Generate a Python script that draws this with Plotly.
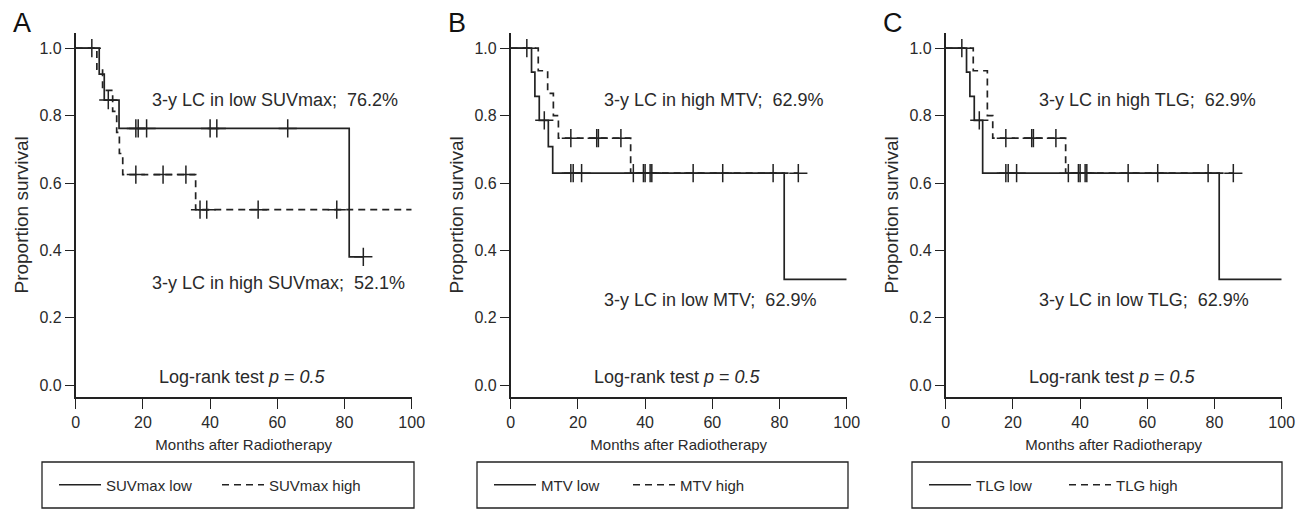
import plotly.graph_objects as go

W, H = 1306, 518
OFF = 8  # page body margin offset in the screenshot

# ---------------- data ----------------
months_ticks = [0, 20, 40, 60, 80, 100]
surv_ticks = [0.0, 0.2, 0.4, 0.6, 0.8, 1.0]
surv_tick_labels = ["0.0", "0.2", "0.4", "0.6", "0.8", "1.0"]

# Panel A: SUVmax
suv_low_event_t = [7.0, 8.5, 12.9, 81.4]
suv_low_surv = [0.923, 0.846, 0.762, 0.381]
suv_low_censor = [4.8, 9.7, 17.9, 18.6, 21.1, 40.0, 42.0, 63.1, 85.6]
suv_low_end = 85.6
suv_high_event_t = [6.3, 8.0, 11.0, 12.2, 13.0, 14.0, 35.7]
suv_high_surv = [0.9375, 0.875, 0.8125, 0.75, 0.6875, 0.625, 0.521]
suv_high_censor = [17.9, 26.0, 32.8, 37.0, 39.0, 54.3, 77.7]
suv_high_end = 100.0

# Panel B: MTV
mtv_low_event_t = [6.2, 7.2, 8.5, 11.2, 12.5, 81.4]
mtv_low_surv = [0.929, 0.857, 0.786, 0.708, 0.629, 0.314]
mtv_low_censor = [4.8, 10.0, 17.9, 18.6, 21.1, 40.0, 42.0, 63.1, 78.1]
mtv_low_end = 100.0
mtv_high_event_t = [8.2, 11.0, 12.7, 14.2, 35.7]
mtv_high_surv = [0.933, 0.866, 0.800, 0.733, 0.629]
mtv_high_censor = [17.9, 25.6, 26.1, 32.8, 36.5, 39.5, 41.5, 54.3, 85.6]
mtv_high_end = 85.6

# Panel C: TLG
tlg_low_event_t = [6.2, 7.2, 8.5, 11.0, 81.4]
tlg_low_surv = [0.929, 0.857, 0.786, 0.629, 0.314]
tlg_low_censor = [4.8, 10.0, 17.9, 18.6, 21.1, 40.0, 42.0, 63.1, 78.1]
tlg_low_end = 100.0
tlg_high_event_t = [8.2, 12.4, 14.0, 35.7]
tlg_high_surv = [0.933, 0.800, 0.733, 0.629]
tlg_high_censor = [17.9, 25.6, 26.1, 32.8, 36.5, 39.5, 41.5, 54.3, 85.6]
tlg_high_end = 85.6

panel_letters = ["A", "B", "C"]
group_names = [("SUVmax low", "SUVmax high"), ("MTV low", "MTV high"), ("TLG low", "TLG high")]
upper_texts = ["3-y LC in low SUVmax;  76.2%", "3-y LC in high MTV;  62.9%", "3-y LC in high TLG;  62.9%"]
lower_texts = ["3-y LC in high SUVmax;  52.1%", "3-y LC in low MTV;  62.9%", "3-y LC in low TLG;  62.9%"]
logrank_text = "Log-rank test <i>p</i> = <i>0.5</i>"

panels = [
    ((suv_low_event_t, suv_low_surv, suv_low_censor, suv_low_end),
     (suv_high_event_t, suv_high_surv, suv_high_censor, suv_high_end)),
    ((mtv_low_event_t, mtv_low_surv, mtv_low_censor, mtv_low_end),
     (mtv_high_event_t, mtv_high_surv, mtv_high_censor, mtv_high_end)),
    ((tlg_low_event_t, tlg_low_surv, tlg_low_censor, tlg_low_end),
     (tlg_high_event_t, tlg_high_surv, tlg_high_censor, tlg_high_end)),
]

# ---------------- layout geometry (target screen pixels) ----------------
x_left_px = [75.7, 510.7, 945.7]
x_width_px = 336.0
y_top_px, y_bot_px = 33.0, 396.7
legend_box_px = [(42, 414), (477, 848), (912, 1282)]
legend_box_y = (462, 508)
legend_x_px = [54, 489, 924]
legend_entrywidth = [106, 82, 83]
text_x_upper = [22.1, 27.1, 27.1]
text_x_lower = [22.1, 27.1, 27.1]
text_y_upper = [0.847, 0.847, 0.847]
text_y_lower = [0.304, 0.253, 0.253]

INK = "#222222"
TXT = "#2a2a2a"
FONT = "Liberation Sans, Arial, sans-serif"


def px_x(px):
    return (px - OFF) / W


def px_y(py):
    return (H - (py - OFF)) / H


def step_xy(event_t, surv, end):
    xs = [0.0] + list(event_t) + [end]
    ys = [1.0] + list(surv) + [surv[-1]]
    return xs, ys


def surv_at(t, event_t, surv):
    s = 1.0
    for et, sv in zip(event_t, surv):
        if et <= t:
            s = sv
    return s


fig = go.Figure()
layout_axes = {}
annotations = []
shapes = []

for i, (low, high) in enumerate(panels):
    ax = "" if i == 0 else str(i + 1)
    xref, yref = "x" + ax, "y" + ax
    legend_name = "legend" if i == 0 else "legend" + str(i + 1)
    for g, (data, dash) in enumerate(zip((low, high), ("solid", "7px,5px"))):
        ev_t, sv, cens, end = data
        xs, ys = step_xy(ev_t, sv, end)
        fig.add_trace(go.Scatter(
            x=xs, y=ys, mode="lines", line=dict(shape="hv", color=INK, width=1.7, dash=dash),
            name=group_names[i][g], xaxis=xref, yaxis=yref, legend=legend_name,
            showlegend=True, hoverinfo="skip"))
        fig.add_trace(go.Scatter(
            x=cens, y=[surv_at(c, ev_t, sv) for c in cens], mode="markers",
            marker=dict(symbol="cross-thin", size=13, line=dict(color=INK, width=1.5)),
            xaxis=xref, yaxis=yref, showlegend=False, hoverinfo="skip", cliponaxis=False))

    layout_axes["xaxis" + ax] = dict(
        domain=[px_x(x_left_px[i]), px_x(x_left_px[i] + x_width_px)], range=[0, 100], anchor=yref,
        tickvals=months_ticks,
        ticks="outside", ticklen=10, tickwidth=1.3, tickcolor=INK,
        showline=True, linecolor=INK, linewidth=1.6, showgrid=False, zeroline=False,
        tickfont=dict(size=16, color=TXT, family=FONT), automargin=False,
        title=dict(text="Months after Radiotherapy", font=dict(size=15, color=TXT, family=FONT), standoff=10))
    layout_axes["yaxis" + ax] = dict(
        domain=[px_y(y_bot_px), px_y(y_top_px)], range=[-0.034, 1.045], anchor=xref,
        tickvals=surv_ticks, ticktext=surv_tick_labels,
        ticks="outside", ticklen=9, tickwidth=1.3, tickcolor=INK,
        showline=True, linecolor=INK, linewidth=1.6, showgrid=False, zeroline=False,
        tickfont=dict(size=16, color=TXT, family=FONT), automargin=False,
        title=dict(text="Proportion survival", font=dict(size=19, color=TXT, family=FONT), standoff=6))

    annotations.append(dict(text=panel_letters[i], xref="paper", yref="paper",
                            x=px_x(x_left_px[i] - 65), y=px_y(23), xanchor="left", yanchor="middle",
                            showarrow=False, font=dict(size=27, color="#111", family=FONT)))
    annotations.append(dict(text=upper_texts[i], xref=xref, yref=yref, x=text_x_upper[i], y=text_y_upper[i],
                            xanchor="left", yanchor="middle", showarrow=False,
                            font=dict(size=18, color=TXT, family=FONT)))
    annotations.append(dict(text=lower_texts[i], xref=xref, yref=yref, x=text_x_lower[i], y=text_y_lower[i],
                            xanchor="left", yanchor="middle", showarrow=False,
                            font=dict(size=18, color=TXT, family=FONT)))
    annotations.append(dict(text=logrank_text, xref=xref, yref=yref, x=24.2, y=0.025,
                            xanchor="left", yanchor="middle", showarrow=False,
                            font=dict(size=18, color=TXT, family=FONT)))
    bx0, bx1 = legend_box_px[i]
    shapes.append(dict(type="rect", xref="paper", yref="paper",
                       x0=px_x(bx0), x1=px_x(bx1), y0=px_y(legend_box_y[1]), y1=px_y(legend_box_y[0]),
                       line=dict(color=INK, width=1.3), fillcolor="rgba(0,0,0,0)"))
    layout_axes[legend_name] = dict(
        orientation="h", x=px_x(legend_x_px[i]), y=px_y((legend_box_y[0] + legend_box_y[1]) / 2),
        xanchor="left", yanchor="middle", bgcolor="rgba(0,0,0,0)", borderwidth=0,
        itemwidth=42, entrywidth=legend_entrywidth[i], font=dict(size=15, color=TXT, family=FONT))

fig.update_layout(
    width=W, height=H, margin=dict(l=0, r=0, t=0, b=0),
    paper_bgcolor="white", plot_bgcolor="white",
    annotations=annotations, shapes=shapes, **layout_axes)

fig.write_html("out.html")
